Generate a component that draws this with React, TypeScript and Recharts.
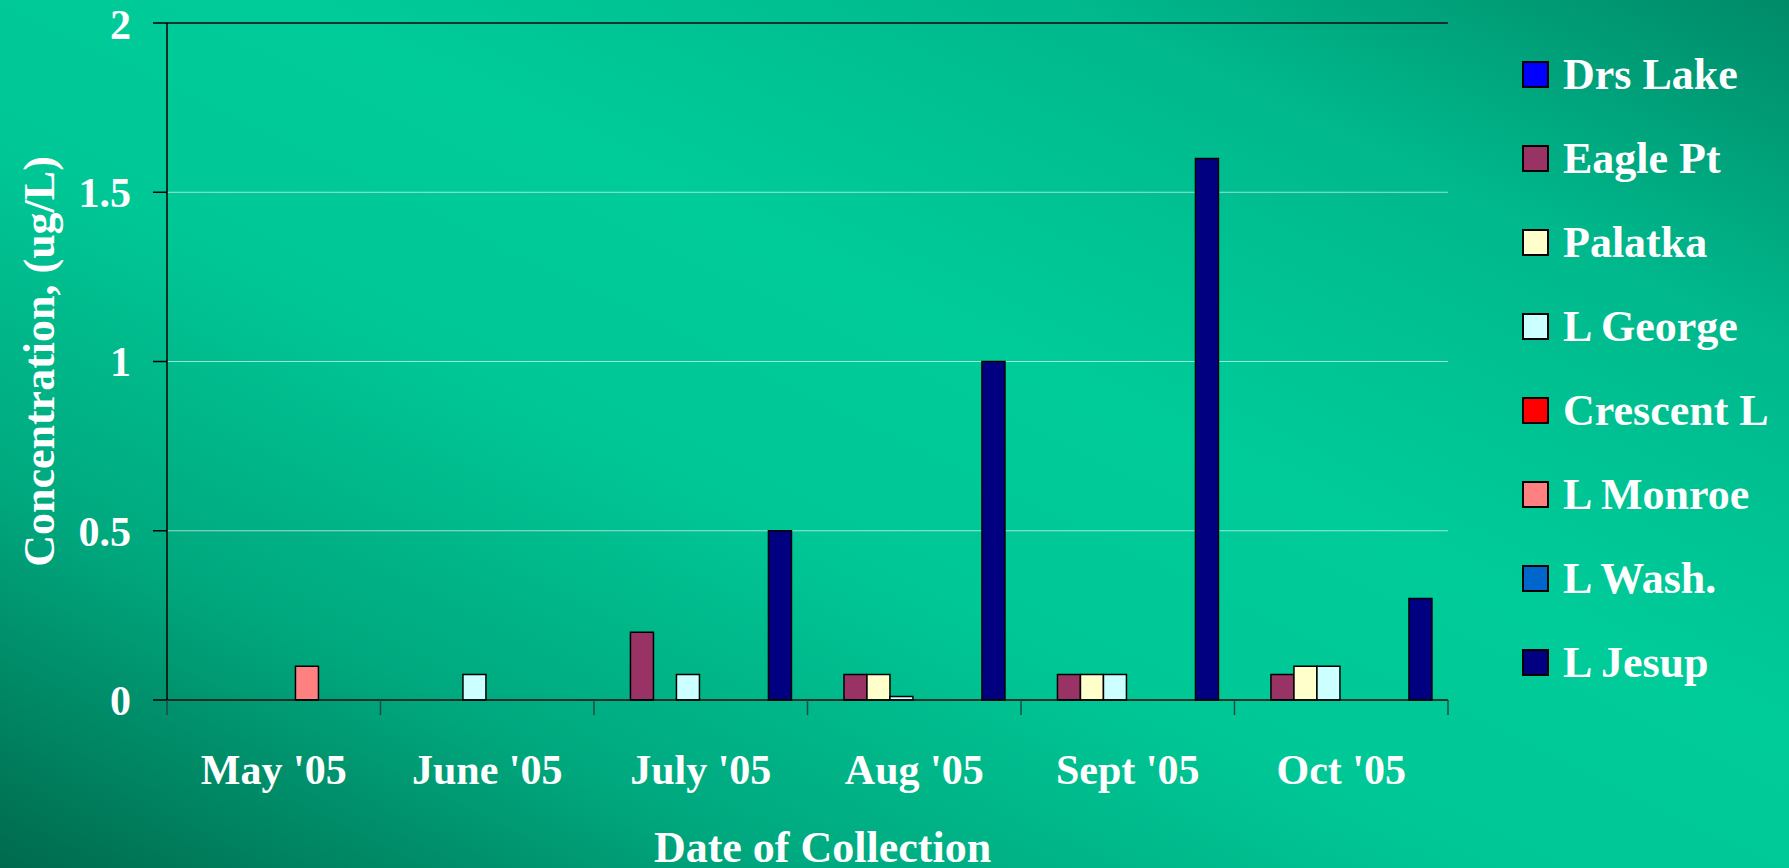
import {
  BarChart,
  Bar,
  XAxis,
  YAxis,
  CartesianGrid,
  ReferenceLine,
} from 'recharts';

const categories = ["May '05", "June '05", "July '05", "Aug '05", "Sept '05", "Oct '05"];
const seriesNames = ['Drs Lake', 'Eagle Pt', 'Palatka', 'L George', 'Crescent L', 'L Monroe', 'L Wash.', 'L Jesup'];
const seriesColors = ['#0000FF', '#993366', '#FFFFCC', '#CCFFFF', '#FF0000', '#FF8080', '#0066CC', '#000080'];

const drsLake = [null, null, null, null, null, null];
const eaglePt = [null, null, 0.2, 0.075, 0.075, 0.075];
const palatka = [null, null, null, 0.075, 0.075, 0.1];
const lGeorge = [null, 0.075, 0.075, 0.01, 0.075, 0.1];
const crescentL = [null, null, null, null, null, null];
const lMonroe = [0.1, null, null, null, null, null];
const lWash = [null, null, null, null, null, null];
const lJesup = [null, null, 0.5, 1.0, 1.6, 0.3];

const seriesValues = [drsLake, eaglePt, palatka, lGeorge, crescentL, lMonroe, lWash, lJesup];
const yTicks = [0, 0.5, 1, 1.5, 2];

const data = categories.map((month, i) => {
  const row: Record<string, string | number | null> = { month };
  seriesNames.forEach((name, s) => {
    row[name] = seriesValues[s][i];
  });
  return row;
});

const FONT = '"Liberation Serif", "Times New Roman", serif';
const WIDTH = 1789;
const HEIGHT = 868;
const MARGIN = { top: 23, right: 341, left: 0, bottom: 0 };
const Y_AXIS_W = 167;
const BAND = (WIDTH - MARGIN.left - MARGIN.right - Y_AXIS_W) / categories.length;
const EDGE = '#1d4d40';

// month label centred in its band, plus the tick marks on the band edges
function MonthTick(props: any) {
  const { x, y, payload, index } = props;
  const left = x - BAND / 2;
  const right = x + BAND / 2;
  return (
    <g>
      <line x1={left} x2={left} y1={y} y2={y + 15} stroke={EDGE} strokeWidth={1.5} />
      {index === categories.length - 1 && (
        <line x1={right} x2={right} y1={y} y2={y + 15} stroke={EDGE} strokeWidth={1.5} />
      )}
      <text
        x={x}
        y={y}
        dy={84}
        textAnchor="middle"
        fill="#fff"
        fontSize={42}
        fontWeight="bold"
        fontFamily={FONT}
      >
        {payload.value}
      </text>
    </g>
  );
}

export default function App() {
  return (
    <div
      style={{
        position: 'absolute',
        left: 0,
        top: 0,
        width: WIDTH,
        height: HEIGHT,
        overflow: 'hidden',
        background:
          'linear-gradient(to top right, #006a4d 0%, #00a87e 22%, #00c796 42%, #00cc99 58%, #00b88c 80%, #008a68 100%)',
      }}
    >
      <BarChart
        width={WIDTH}
        height={HEIGHT}
        data={data}
        margin={MARGIN}
        barCategoryGap="6.3%"
        barGap={0}
      >
        <CartesianGrid vertical={false} stroke="rgba(255,255,255,0.6)" strokeWidth={1} />
        <XAxis
          dataKey="month"
          tick={<MonthTick />}
          tickLine={false}
          tickSize={0}
          tickMargin={0}
          axisLine={{ stroke: '#000', strokeWidth: 1.5 }}
          height={168}
          interval={0}
          label={{
            value: 'Date of Collection',
            position: 'insideBottom',
            offset: 6,
            dx: 15,
            fill: '#fff',
            fontSize: 44,
            fontWeight: 'bold',
            fontFamily: FONT,
          }}
        />
        <YAxis
          domain={[0, 2]}
          ticks={yTicks}
          width={Y_AXIS_W}
          tickSize={14}
          tickMargin={22}
          axisLine={{ stroke: '#000', strokeWidth: 1.5 }}
          tickLine={{ stroke: '#000', strokeWidth: 1.5 }}
          tick={{ fill: '#fff', fontSize: 42, fontWeight: 'bold', fontFamily: FONT }}
          label={{
            value: 'Concentration, (ug/L)',
            angle: -90,
            position: 'insideLeft',
            offset: 38,
            style: { textAnchor: 'middle' },
            fill: '#fff',
            fontSize: 44,
            fontWeight: 'bold',
            fontFamily: FONT,
          }}
        />
        <YAxis
          yAxisId="frame"
          orientation="right"
          domain={[0, 2]}
          width={0}
          tick={false}
          tickLine={false}
          axisLine={{ stroke: EDGE, strokeWidth: 1.5 }}
        />
        <ReferenceLine y={2} stroke="#000" strokeWidth={1.5} />
        {seriesNames.map((name, s) => (
          <Bar
            key={name}
            dataKey={name}
            fill={seriesColors[s]}
            stroke="#000"
            strokeWidth={1.5}
            isAnimationActive={false}
          />
        ))}
      </BarChart>
      <div style={{ position: 'absolute', left: 1522, top: 32 }}>
        {seriesNames.map((name, s) => (
          <div key={name} style={{ display: 'flex', alignItems: 'center', height: 84 }}>
            <div
              style={{
                width: 23,
                height: 23,
                background: seriesColors[s],
                border: '2px solid #000',
                marginRight: 14,
              }}
            />
            <span
              style={{
                color: '#fff',
                fontSize: 44,
                fontWeight: 'bold',
                fontFamily: FONT,
                whiteSpace: 'nowrap',
              }}
            >
              {name}
            </span>
          </div>
        ))}
      </div>
    </div>
  );
}
